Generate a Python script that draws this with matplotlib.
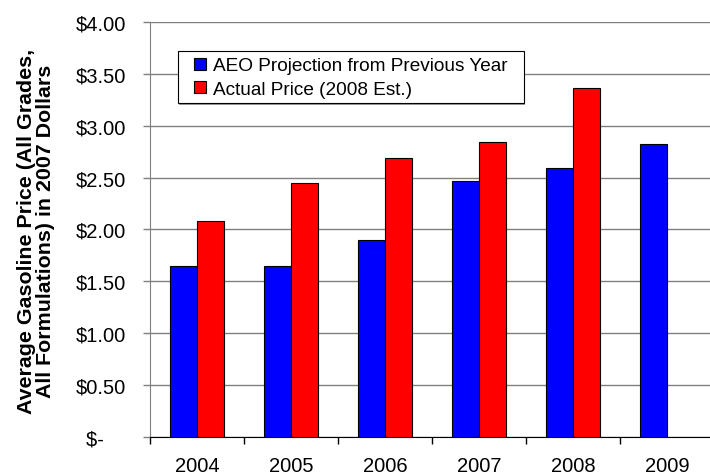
import numpy as np
import matplotlib
matplotlib.use('Agg')
import matplotlib.pyplot as plt
from matplotlib.lines import Line2D
from matplotlib.patches import Rectangle

plt.rcParams["font.family"] = ["Liberation Sans", "DejaVu Sans"]
plt.rcParams["font.size"] = 14

years = ['2004', '2005', '2006', '2007', '2008', '2009']
aeo_projection = [1.65, 1.65, 1.90, 2.47, 2.59, 2.82]
actual_price = [2.08, 2.45, 2.69, 2.84, 3.36, np.nan]
yticks = [0, 0.5, 1.0, 1.5, 2.0, 2.5, 3.0, 3.5, 4.0]
ytick_labels = ['$-    ', '$0.50', '$1.00', '$1.50', '$2.00', '$2.50', '$3.00', '$3.50', '$4.00']
series_names = ['AEO Projection from Previous Year', 'Actual Price (2008 Est.)']

W, H = 710, 477
fig = plt.figure(figsize=(W / 100, H / 100), dpi=100)
ax = fig.add_axes([150 / W, 1 - 437.7 / H, 564 / W, 414.7 / H])

x = np.arange(len(years))
w = 0.29
ax.bar(x - w / 2, aeo_projection, w, color='#0000FF', edgecolor='black', lw=0.8, zorder=3)
ax.bar(x + w / 2, actual_price, w, color='#FF0000', edgecolor='black', lw=0.8, zorder=3)

ax.set_ylim(0, 4)
ax.set_xlim(-0.5, 5.5)
ax.set_yticks(yticks)
ax.set_yticklabels(ytick_labels, fontsize=14.5)
ax.yaxis.grid(True, color='#808080', lw=1, zorder=0)

# category boundary ticks, labels sit on minor ticks at centres
ax.set_xticks(np.arange(-0.5, 6, 1))
ax.set_xticklabels([])
ax.set_xticks(x, minor=True)
ax.set_xticklabels(years, minor=True, fontsize=14.5)
ax.tick_params(axis='x', which='major', direction='out', length=5, width=1, color='black')
ax.tick_params(axis='x', which='minor', length=0, pad=14)
ax.tick_params(axis='y', direction='out', length=5, width=1, color='#808080', pad=12)

for s in ['top', 'right']:
    ax.spines[s].set_visible(False)
ax.spines['left'].set_color('#808080')
ax.spines['bottom'].set_color('black')

# y label as a plain figure text so its size can be fitted to the reference
ylab = fig.text(36 / W, 1 - 231 / H,
                'Average Gasoline Price (All Grades,\nAll Formulations) in 2007 Dollars',
                rotation=90, ha='center', va='center', multialignment='center',
                fontweight='bold', fontsize=12, linespacing=1.0)
fig.canvas.draw()
ext = ylab.get_window_extent()
ylab.set_fontsize(12 * 362 / max(ext.height, ext.width))

# legend box with wider side padding than top/bottom
fig.patches.append(Rectangle((179 / W, 1 - 106 / H), 346 / W, 52 / H, transform=fig.transFigure,
                             facecolor='#9a9a9a', edgecolor='none', zorder=4))
fig.patches.append(Rectangle((178 / W, 1 - 104 / H), 346 / W, 52 / H, transform=fig.transFigure,
                             facecolor='white', edgecolor='black', lw=0.8, zorder=5))
handles = [Line2D([0], [0], ls='none', marker='s', markersize=9, markerfacecolor='#0000FF',
                  markeredgecolor='black', markeredgewidth=0.8),
           Line2D([0], [0], ls='none', marker='s', markersize=9, markerfacecolor='#FF0000',
                  markeredgecolor='black', markeredgewidth=0.8)]
lgd = fig.legend(handles, series_names, loc='center left',
                 bbox_to_anchor=(192 / W, 1 - 78.5 / H), frameon=False,
                 borderaxespad=0, borderpad=0, fontsize=13.7, handlelength=0.8,
                 handletextpad=0.3, labelspacing=0.35)
lgd.set_zorder(6)

fig.savefig('out.png', dpi=100)
